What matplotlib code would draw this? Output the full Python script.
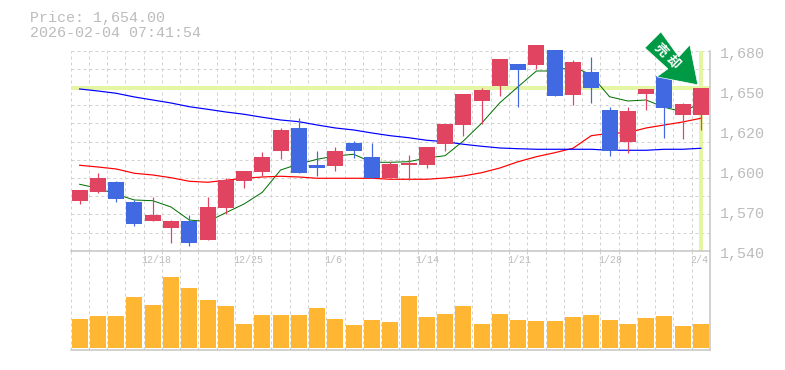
import matplotlib
matplotlib.use("Agg")
import matplotlib.pyplot as plt
from matplotlib.patches import Polygon
from matplotlib.transforms import Affine2D

# ---------- data ----------
opens = [1574.8, 1581.1, 1588.1, 1574.1, 1560.8, 1555.9, 1560.8, 1547.5, 1569.9, 1588.8,
         1595.1, 1609.8, 1625.9, 1600.0, 1599.3, 1615.4, 1605.6, 1590.9, 1600.0, 1600.0,
         1614.7, 1628.0, 1644.8, 1655.3, 1670.7, 1670.0, 1680.5, 1649.0, 1665.1, 1638.5,
         1616.1, 1649.7, 1662.0, 1635.0, 1635.0]
closes = [1582.5, 1590.9, 1576.2, 1558.7, 1565.0, 1560.8, 1545.4, 1570.6, 1589.5, 1595.8,
          1605.6, 1624.5, 1594.4, 1597.9, 1609.8, 1609.8, 1590.9, 1600.7, 1601.4, 1612.6,
          1628.7, 1649.7, 1652.5, 1674.2, 1666.5, 1684.0, 1648.3, 1672.1, 1653.9, 1609.8,
          1637.8, 1653.2, 1639.9, 1642.7, 1654.0]
highs = [1582.5, 1594.4, 1588.6, 1575.5, 1577.6, 1561.5, 1565.0, 1577.6, 1590.9, 1595.8,
         1609.1, 1625.9, 1632.9, 1609.8, 1612.6, 1616.8, 1615.4, 1602.1, 1607.0, 1612.6,
         1628.7, 1649.7, 1653.9, 1674.2, 1670.7, 1684.0, 1680.5, 1673.5, 1675.6, 1640.4,
         1640.6, 1653.2, 1662.0, 1643.4, 1654.0]
lows = [1572.7, 1580.4, 1574.1, 1557.3, 1560.8, 1545.4, 1543.3, 1547.5, 1565.7, 1583.9,
        1592.3, 1604.2, 1594.4, 1592.3, 1595.8, 1604.9, 1590.9, 1590.9, 1589.5, 1597.9,
        1609.8, 1620.3, 1628.7, 1648.3, 1640.6, 1667.2, 1648.3, 1642.0, 1643.4, 1606.3,
        1608.4, 1638.5, 1618.9, 1618.2, 1624.5]
ma_short = [1586.5, 1583.7, 1579.5, 1575.5, 1575.0, 1570.6, 1561.5, 1560.3, 1566.6, 1572.7,
            1580.9, 1596.5, 1600.7, 1604.0, 1606.3, 1607.5, 1601.9, 1601.9, 1602.3, 1604.9,
            1606.5, 1616.8, 1629.2, 1643.6, 1654.8, 1665.8, 1665.8, 1669.0, 1663.0, 1647.8,
            1644.8, 1645.5, 1640.4, 1637.3, 1643.2]
ma_mid = [1599.8, 1598.6, 1597.2, 1594.2, 1593.0, 1591.1, 1588.6, 1587.9, 1589.3, 1590.7,
          1591.6, 1592.1, 1591.6, 1590.7, 1590.7, 1590.7, 1590.7, 1590.0, 1590.0, 1590.0,
          1590.9, 1592.3, 1594.6, 1597.9, 1602.3, 1605.8, 1608.6, 1611.7, 1620.5, 1622.2,
          1622.6, 1625.9, 1628.0, 1630.1, 1632.7]
ma_long = [1653.2, 1651.8, 1650.2, 1647.6, 1645.5, 1643.4, 1640.8, 1639.0, 1637.1, 1635.5,
           1633.4, 1631.5, 1630.3, 1628.0, 1625.9, 1624.5, 1622.4, 1620.5, 1619.1, 1617.3,
           1616.3, 1614.5, 1613.1, 1611.9, 1611.4, 1611.0, 1611.0, 1611.0, 1611.0, 1610.3,
           1610.3, 1610.3, 1611.0, 1611.0, 1611.7]
volumes = [88, 97, 97, 154, 130, 214, 181, 145, 127, 73, 100, 100, 100, 121, 88, 70, 85, 79,
           157, 94, 103, 127, 73, 103, 85, 82, 82, 94, 100, 85, 73, 91, 97, 67, 73]
date_labels = ["12/18", "12/25", "1/6", "1/14", "1/21", "1/28", "2/4"]
date_ticks = [4, 9, 14, 19, 24, 29, 34]
price_ticks = [1540, 1568, 1596, 1624, 1652, 1680]
price_labels = ["1,540", "1,570", "1,600", "1,620", "1,650", "1,680"]
last_price = 1654.0
title_lines = ["Price: 1,654.00", "2026-02-04 07:41:54"]

# ---------- style ----------
W, H = 785, 370
UP, DOWN = "#e04460", "#4169e1"
GRID, FRAME, TXT = "#d2d2d2", "#c4c4c4", "#bcbcbc"
BAND = "#e4f5a4"
MONO = "Liberation Mono"
px = 72 / 100

fig = plt.figure(figsize=(W / 100, H / 100), dpi=100)
L, R = 70.5, 710.0
def make_ax(top, bottom):
    return fig.add_axes([L / W, 1 - bottom / H, (R - L) / W, (bottom - top) / H])
ax = make_ax(50.7, 250.7)
vx = make_ax(250.7, 350.0)
n = len(opens)
xs = list(range(n))

for a in (ax, vx):
    a.set_xlim(-0.5, n - 0.5)
    a.patch.set_alpha(0)
    for s in a.spines.values():
        s.set_visible(False)
    a.tick_params(length=0)
    a.set_xticks([i - 0.5 for i in range(n + 1)], labels=[])
    a.grid(True, axis="x", color=GRID, lw=1.0 * px, ls=(0, (3, 3)), zorder=0)
    a.set_axisbelow(True)

ax.set_ylim(1540, 1680)
ax.set_yticks([1540 + 140 * k / 11 for k in range(12)], labels=[])
ax.grid(True, axis="y", color=GRID, lw=1.0 * px, ls=(0, (3, 3)), zorder=0)

# highlight band at last price / last date
ax.axhline(last_price, color=BAND, lw=4 * px, zorder=1)
ax.axvline(xs[-1], color=BAND, lw=4 * px, zorder=1)

# candles
for i in xs:
    c = UP if closes[i] >= opens[i] else DOWN
    ax.vlines(i, lows[i], highs[i], color=c, lw=1.2 * px, zorder=3, clip_on=False)
    lo, hi = sorted((opens[i], closes[i]))
    ax.bar(i, hi - lo, bottom=lo, width=16 / 18.28, color=c, lw=0, zorder=3, clip_on=False)

# moving averages
ax.plot(xs, ma_short, color="#007000", lw=1.0 * px, zorder=2.5, clip_on=False)
ax.plot(xs, ma_mid, color="#ff0000", lw=1.2 * px, zorder=2.5, clip_on=False)
ax.plot(xs, ma_long, color="#0000ff", lw=1.2 * px, zorder=2.5, clip_on=False)

# volume
vx.set_ylim(-5, 293)
vx.set_yticks([])
vx.bar(xs, volumes, width=16 / 18.28, color="#ffb733", lw=0, zorder=3)

# frame lines
for yy in (250.7, 350.0):
    fig.add_artist(plt.Line2D([L / W, R / W], [1 - yy / H] * 2, color=FRAME, lw=1.5 * px))
fig.add_artist(plt.Line2D([R / W] * 2, [1 - 50.7 / H, 1 - 350 / H], color=FRAME, lw=1.5 * px))

# x tick labels sit in the top of the volume panel
for t, s in zip(date_ticks, date_labels):
    vx.annotate(s, xy=(t, 1), xycoords=("data", "axes fraction"), xytext=(-11, -4),
                textcoords="offset pixels", ha="left", va="top",
                fontsize=10 * px, family=MONO, color=TXT, zorder=5)

# y tick labels
for p, s in zip(price_ticks, price_labels):
    ax.annotate(s, xy=(1, p), xycoords=("axes fraction", "data"), xytext=(10, -3),
                textcoords="offset pixels", ha="left", va="center",
                fontsize=15 * px, family=MONO, color=TXT, annotation_clip=False)

# header
for k, line in enumerate(title_lines):
    fig.text(30 / W, 1 - (18 + 15 * k) / H, line, fontsize=15 * px, family=MONO,
             color=TXT, ha="left", va="center")

# green arrow, placed in pixels relative to the last candle
arrow = [(-40, -56), (-56, -40), (-33, -19), (-44, -11), (-3, -3), (-11, -43), (-22, -31)]
tipx, tipy = ax.transData.transform((xs[-1], last_price))
tr = Affine2D().scale(1, -1).translate(tipx, tipy)
fig.add_artist(Polygon(arrow, closed=True, transform=tr, facecolor="#009944",
                       edgecolor="white", lw=0.5, zorder=6))
for ch, dx, dy in (("売", -40, -38), ("却", -28, -26)):
    fig.text((tipx + dx) / W, (tipy - dy) / H, ch, fontsize=9.5, rotation=-45, color="white",
             ha="center", va="center", family=["Noto Sans CJK JP", "DejaVu Sans"], weight="bold",
             rotation_mode="anchor", zorder=7)

fig.savefig("out.png", dpi=100)
